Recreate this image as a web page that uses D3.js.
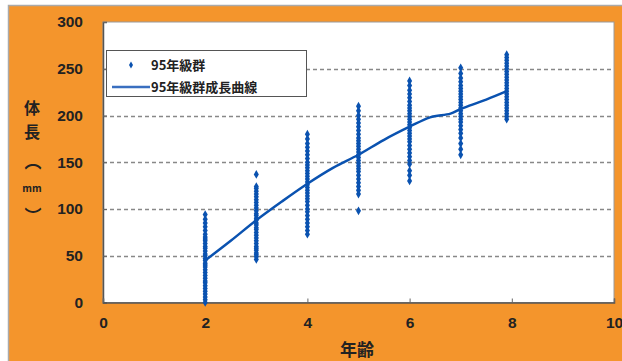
<!DOCTYPE html>
<html><head><meta charset="utf-8">
<script src="https://cdn.jsdelivr.net/npm/d3@7"></script>
<style>html,body{margin:0;padding:0;background:#fff;}svg{display:block;}</style>
</head><body>
<script>
const ages = [2, 3, 4, 5, 6, 7, 7.9];
const lengthsAge2 = [0,3,6,9,12,15,18,21,23,26,29,32,35,38,40,42,45,47,50,52,55,58,60,63,66,68,70,73,77,81,85,89,94];
const lengthsAge3 = [46,49,51,53,56,58,60,63,66,69,72,75,78,80,83,85,88,90,93,95,98,101,104,107,110,113,116,119,122,124,137];
const lengthsAge4 = [73,77,81,85,89,93,97,100,104,108,111,114,117,120,123,126,129,132,135,138,141,144,147,150,154,158,162,166,170,175,180];
const lengthsAge5 = [98,116,120,124,128,132,136,140,143,146,149,152,155,158,161,164,167,170,173,176,180,184,188,192,196,200,205,210];
const lengthsAge6 = [130,136,141,148,152,156,160,164,168,172,175,178,181,184,187,190,193,196,199,202,205,208,211,215,219,223,227,232,237];
const lengthsAge7 = [158,164,170,176,181,185,189,193,196,199,202,205,208,211,214,217,220,223,226,229,232,236,240,245,251];
const lengthsAge79 = [196,199,202,205,208,211,214,217,220,223,226,229,232,235,238,241,244,247,250,253,256,259,262,265];
const curveAges = [2, 2.5, 3, 3.5, 4, 4.5, 5, 5.5, 6, 6.4, 6.8, 7, 7.5, 7.9];
const curveLengths = [45, 66, 88, 108, 127, 144, 158, 174, 188, 198, 202, 207, 217, 226];
const xTicks = [0, 2, 4, 6, 8, 10];
const yTicks = [0, 50, 100, 150, 200, 250, 300];
const legendLabels = ["95年級群", "95年級群成長曲線"];

const columns = [lengthsAge2, lengthsAge3, lengthsAge4, lengthsAge5, lengthsAge6, lengthsAge7, lengthsAge79];
const points = [];
columns.forEach((arr, i) => arr.forEach(v => points.push({age: ages[i], len: v})));

const W = 622, H = 361;
const orange = "#F4952C", blue = "#0A52B0";
const svg = d3.select("body").append("svg").attr("width", W).attr("height", H);

svg.append("rect").attr("x", 8.5).attr("y", 5.5).attr("width", W).attr("height", H)
  .attr("fill", orange).attr("stroke", "#aaa").attr("stroke-width", 1.5);

const L = 103, R = 614, T = 22, B = 302.5;
const x = d3.scaleLinear().domain([0, 10]).range([L, R]);
const y = d3.scaleLinear().domain([0, 300]).range([B, T]);

svg.append("rect").attr("x", L).attr("y", T).attr("width", R - L).attr("height", B - T)
  .attr("fill", "#fff").attr("stroke", "#9a9a9a").attr("stroke-width", 1);

// grid
svg.append("g").selectAll("line").data(yTicks.filter(d => d > 0 && d < 300)).join("line")
  .attr("x1", L).attr("x2", R).attr("y1", d => Math.round(y(d)) + 0.5).attr("y2", d => Math.round(y(d)) + 0.5)
  .attr("stroke", "#888").attr("stroke-width", 1.3).attr("stroke-dasharray", "4,3");

// axes
const yAxis = d3.axisLeft(y).tickValues(yTicks).tickSize(-4).tickPadding(20);
const gy = svg.append("g").attr("transform", `translate(${L},0)`).call(yAxis);
const xAxis = d3.axisBottom(x).tickValues(xTicks).tickSize(-4).tickPadding(22);
const gx = svg.append("g").attr("transform", `translate(0,${B})`).call(xAxis);
[gy, gx].forEach(g => {
  g.select(".domain").attr("stroke", "#555").attr("stroke-width", 1.5);
  g.selectAll(".tick line").attr("stroke", "#666");
  g.selectAll(".tick text").attr("font-family", "Liberation Sans, Arial, sans-serif")
    .attr("font-size", 15.5).attr("fill", "#222").attr("font-weight", "bold");
});
gx.selectAll(".tick text").attr("dy", "0.2em");

// curve
svg.append("path").datum(curveAges.map((a, i) => [a, curveLengths[i]]))
  .attr("d", d3.line().x(d => x(d[0])).y(d => y(d[1])).curve(d3.curveCatmullRom))
  .attr("fill", "none").attr("stroke", blue).attr("stroke-width", 2.5);

// points
const sym = d3.symbol().type(d3.symbolDiamond).size(22);
svg.append("g").selectAll("path").data(points).join("path")
  .attr("transform", d => `translate(${x(d.age)},${y(d.len)})`)
  .attr("d", sym).attr("fill", blue);

// legend
const lg = svg.append("g");
lg.append("rect").attr("x", 106.5).attr("y", 50.5).attr("width", 200).attr("height", 46)
  .attr("fill", "#fff").attr("stroke", "#555").attr("stroke-width", 1);
lg.append("path").attr("transform", "translate(131,65)").attr("d", d3.symbol().type(d3.symbolDiamond).size(14)).attr("fill", blue);
lg.append("line").attr("x1", 112).attr("x2", 150).attr("y1", 87).attr("y2", 87)
  .attr("stroke", "#3A6FC0").attr("stroke-width", 2.5);
const jp = "Noto Sans CJK JP, sans-serif";
lg.append("text").attr("x", 151).attr("y", 65).attr("dy", "0.35em").text(legendLabels[0])
  .attr("font-family", jp).attr("font-size", 13).attr("font-weight", "bold").attr("fill", "#222");
lg.append("text").attr("x", 151).attr("y", 87).attr("dy", "0.35em").text(legendLabels[1])
  .attr("font-family", jp).attr("font-size", 13).attr("font-weight", "bold").attr("fill", "#222");

// axis titles
const yt = svg.append("g").attr("font-family", jp).attr("font-weight", "bold").attr("fill", "#222");
yt.append("text").attr("x", 32).attr("y", 108).attr("text-anchor", "middle").attr("dy", "0.35em").attr("font-size", 16).text("体");
yt.append("text").attr("x", 32).attr("y", 132).attr("text-anchor", "middle").attr("dy", "0.35em").attr("font-size", 16).text("長");
yt.append("text").attr("x", 33).attr("y", 168).attr("text-anchor", "middle").attr("font-size", 17).text("︵");
yt.append("text").attr("x", 32).attr("y", 188).attr("text-anchor", "middle").attr("dy", "0.35em").attr("font-size", 10).text("mm");
yt.append("text").attr("x", 33).attr("y", 222).attr("text-anchor", "middle").attr("font-size", 17).text("︶");
svg.append("text").attr("x", 357).attr("y", 350).attr("text-anchor", "middle").attr("dy", "0.35em")
  .attr("font-family", jp).attr("font-weight", "bold").attr("font-size", 17).attr("fill", "#222").text("年齢");
</script>
</body></html>
